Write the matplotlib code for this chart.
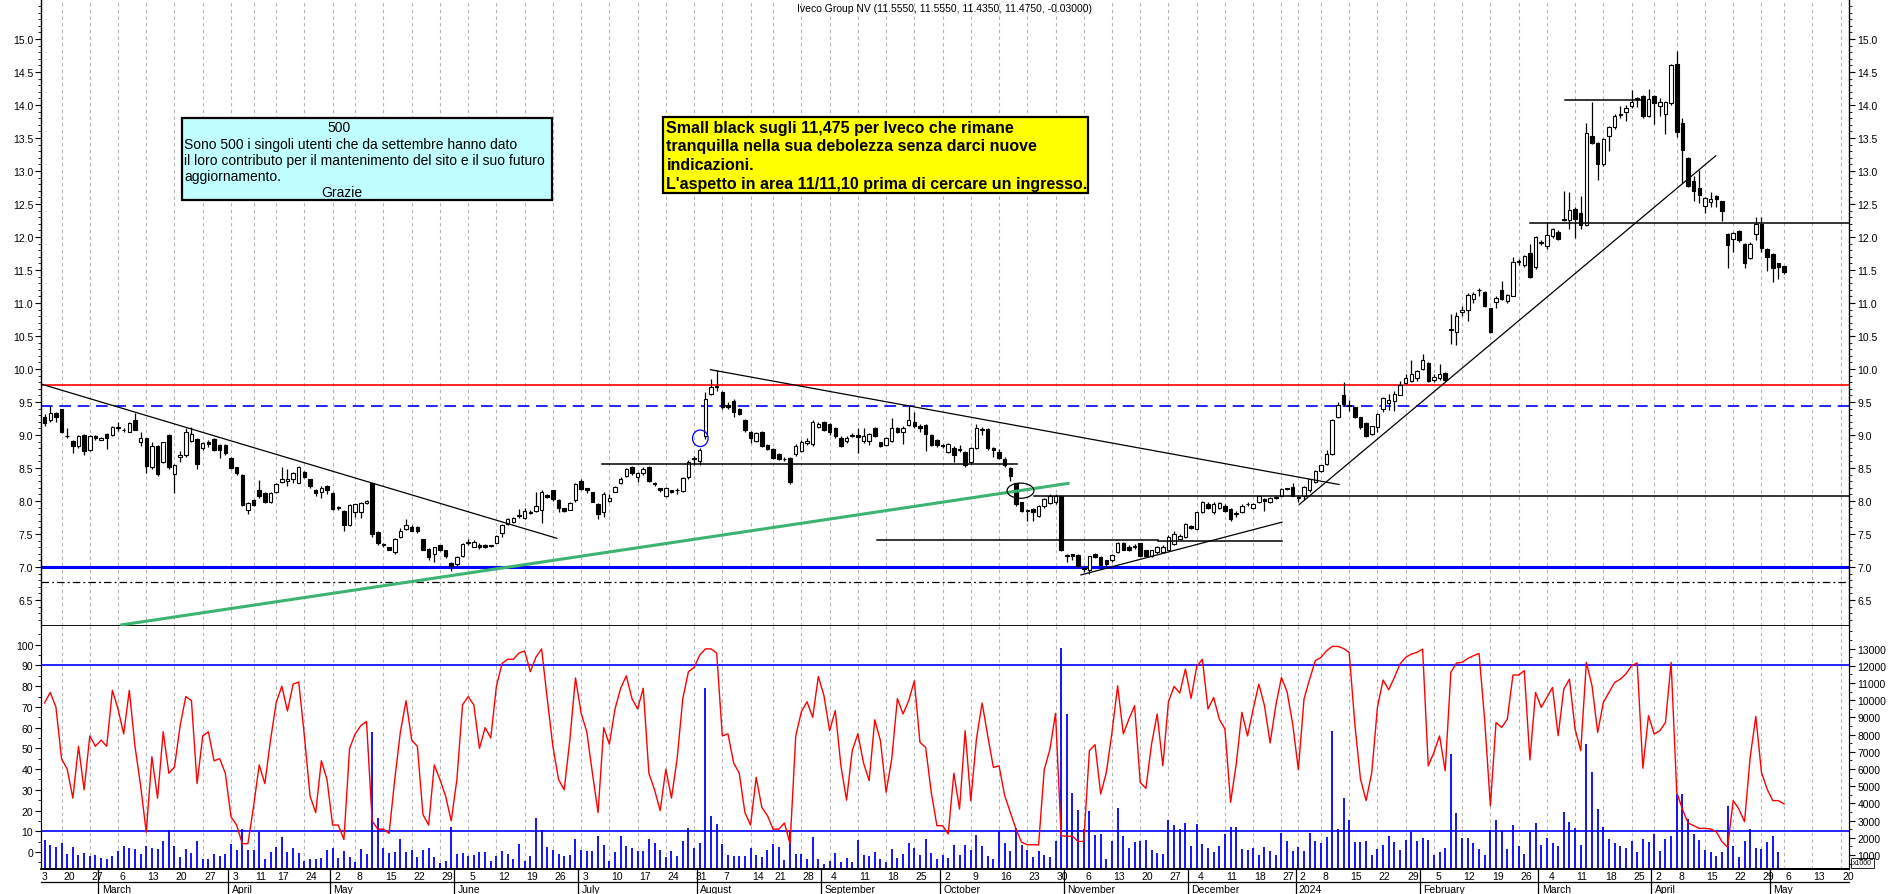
import matplotlib.pyplot as plt
from matplotlib.patches import Rectangle, Ellipse
from matplotlib.ticker import MultipleLocator, FixedLocator, FuncFormatter
import matplotlib.transforms as mtransforms
import numpy as np
import pandas as pd

plt.rcParams['font.family'] = ['Liberation Sans Narrow', 'Liberation Sans', 'DejaVu Sans']

# trading days (Borsa Italiana holidays removed), first bar 15 Feb 2023
holidays = ['2023-04-07', '2023-04-10', '2023-05-01', '2023-08-15', '2023-12-25',
            '2023-12-26', '2024-01-01', '2024-03-29', '2024-04-01', '2024-05-01']
month_names = ['January', 'February', 'March', 'April', 'May', 'June', 'July',
               'August', 'September', 'October', 'November', 'December']

title = 'Iveco Group NV (11.5550, 11.5550, 11.4350, 11.4750, -0.03000)'

opens = [
    9.27, 9.23, 9.33, 9.39, 8.99, 8.91, 8.83, 9.00, 8.78, 8.99,
    8.93, 9.02, 9.00, 9.11, 9.07, 9.05, 9.22, 8.89, 8.95, 8.51,
    8.84, 8.59, 9.00, 8.41, 8.66, 8.69, 8.91, 8.94, 8.80, 8.90,
    8.94, 8.85, 8.85, 8.65, 8.51, 8.40, 7.87, 8.02, 8.17, 8.12,
    7.99, 8.14, 8.29, 8.30, 8.34, 8.28, 8.44, 8.33, 8.17, 8.14,
    8.23, 8.12, 7.90, 7.85, 7.64, 7.84, 7.84, 7.97, 8.27, 7.53,
    7.35, 7.30, 7.22, 7.45, 7.58, 7.61, 7.61, 7.42, 7.28, 7.20,
    7.33, 7.25, 7.06, 7.05, 7.17, 7.37, 7.31, 7.34, 7.34, 7.32,
    7.37, 7.51, 7.65, 7.68, 7.78, 7.74, 7.82, 7.85, 7.87, 8.09,
    8.16, 8.02, 7.89, 7.87, 8.01, 8.31, 8.19, 8.13, 7.96, 7.83,
    8.00, 8.14, 8.27, 8.38, 8.51, 8.36, 8.42, 8.52, 8.28, 8.19,
    8.07, 8.16, 8.16, 8.15, 8.36, 8.64, 8.61, 8.99, 9.62, 9.73,
    9.65, 9.45, 9.52, 9.40, 9.23, 9.05, 8.91, 9.05, 8.85, 8.79,
    8.71, 8.64, 8.65, 8.71, 8.76, 8.88, 8.86, 9.12, 9.19, 9.17,
    9.10, 8.96, 8.91, 8.99, 9.00, 8.91, 8.91, 9.10, 8.89, 8.85,
    8.91, 9.10, 9.05, 9.15, 9.20, 9.14, 9.15, 9.00, 8.93, 8.85,
    8.74, 8.81, 8.79, 8.74, 8.59, 8.81, 9.08, 9.09, 8.80, 8.74,
    8.64, 8.50, 8.27, 7.98, 7.86, 7.88, 7.77, 7.93, 7.97, 7.98,
    8.07, 7.18, 7.19, 7.18, 6.98, 6.96, 7.20, 7.15, 7.10, 7.10,
    7.22, 7.37, 7.31, 7.31, 7.36, 7.25, 7.17, 7.22, 7.22, 7.26,
    7.35, 7.43, 7.46, 7.62, 7.58, 7.83, 7.95, 7.83, 7.90, 7.93,
    7.88, 7.80, 7.83, 7.95, 7.90, 7.99, 8.03, 7.99, 8.05, 8.08,
    8.18, 8.21, 8.06, 8.08, 8.16, 8.29, 8.46, 8.56, 8.71, 9.27,
    9.61, 9.45, 9.42, 9.27, 9.18, 9.02, 9.12, 9.39, 9.48, 9.52,
    9.61, 9.79, 9.82, 9.86, 10.00, 10.09, 9.84, 9.86, 9.94, 10.59,
    10.56, 10.87, 10.90, 11.06, 11.19, 11.16, 10.92, 11.02, 11.20, 11.03,
    11.11, 11.62, 11.57, 11.76, 11.54, 11.91, 11.87, 12.02, 12.08, 12.26,
    12.25, 12.43, 12.36, 12.18, 13.53, 13.42, 13.10, 13.53, 13.66, 13.85,
    13.90, 13.99, 14.09, 14.14, 13.84, 14.14, 13.98, 13.86, 14.03, 14.62,
    13.72, 13.20, 12.85, 12.74, 12.47, 12.53, 12.62, 12.54, 12.05, 11.97,
    12.09, 11.90, 11.68, 12.05, 12.20, 11.82, 11.74, 11.60, 11.555]

highs = [
    9.32, 9.44, 9.35, 9.40, 9.10, 8.92, 9.00, 9.02, 9.00, 9.00,
    8.97, 9.03, 9.13, 9.19, 9.10, 9.20, 9.34, 9.05, 8.96, 8.90,
    8.85, 8.90, 9.01, 8.56, 8.75, 9.10, 9.12, 8.96, 8.90, 8.92,
    8.95, 8.86, 8.86, 8.66, 8.52, 8.41, 7.98, 8.03, 8.32, 8.13,
    8.13, 8.27, 8.51, 8.49, 8.44, 8.53, 8.45, 8.34, 8.18, 8.22,
    8.24, 8.13, 7.93, 7.86, 7.95, 7.96, 7.98, 8.01, 8.28, 7.54,
    7.36, 7.31, 7.44, 7.59, 7.72, 7.63, 7.62, 7.43, 7.29, 7.31,
    7.34, 7.26, 7.07, 7.16, 7.37, 7.43, 7.41, 7.36, 7.35, 7.34,
    7.48, 7.65, 7.74, 7.76, 7.88, 7.90, 7.86, 8.14, 8.16, 8.10,
    8.17, 8.03, 7.90, 7.98, 8.28, 8.33, 8.20, 8.14, 7.97, 8.13,
    8.10, 8.22, 8.36, 8.50, 8.53, 8.44, 8.51, 8.53, 8.29, 8.20,
    8.21, 8.17, 8.20, 8.36, 8.62, 8.68, 8.80, 9.65, 9.85, 9.99,
    9.66, 9.50, 9.55, 9.41, 9.24, 9.06, 9.04, 9.06, 8.86, 8.80,
    8.72, 8.66, 8.66, 8.86, 8.92, 8.95, 9.22, 9.20, 9.21, 9.18,
    9.12, 8.98, 8.98, 9.03, 9.10, 9.10, 9.03, 9.12, 8.90, 8.97,
    9.26, 9.12, 9.13, 9.44, 9.35, 9.16, 9.16, 9.01, 8.94, 8.87,
    8.88, 8.83, 8.85, 8.75, 8.82, 9.17, 9.12, 9.10, 8.82, 8.79,
    8.66, 8.51, 8.28, 7.99, 7.88, 7.90, 7.94, 8.05, 8.10, 8.10,
    8.08, 7.20, 7.20, 7.19, 7.00, 7.17, 7.21, 7.16, 7.11, 7.19,
    7.38, 7.38, 7.33, 7.35, 7.37, 7.26, 7.26, 7.32, 7.33, 7.48,
    7.55, 7.50, 7.66, 7.63, 7.84, 8.00, 7.99, 7.98, 7.98, 7.95,
    7.89, 7.85, 7.95, 7.98, 7.97, 8.08, 8.04, 8.06, 8.08, 8.20,
    8.20, 8.27, 8.08, 8.22, 8.34, 8.47, 8.55, 8.78, 9.24, 9.50,
    9.80, 9.53, 9.43, 9.28, 9.19, 9.14, 9.33, 9.58, 9.62, 9.66,
    9.82, 9.92, 10.14, 9.99, 10.22, 10.11, 9.92, 10.08, 9.96, 10.83,
    10.86, 10.95, 11.15, 11.16, 11.23, 11.18, 10.93, 11.10, 11.34, 11.14,
    11.70, 11.66, 11.73, 11.90, 12.02, 11.95, 12.22, 12.14, 12.10, 12.69,
    12.68, 12.45, 12.62, 13.72, 14.04, 13.44, 13.50, 13.68, 13.86, 13.98,
    14.00, 14.22, 14.12, 14.15, 14.24, 14.15, 14.10, 14.06, 14.62, 14.82,
    13.80, 13.21, 12.93, 13.02, 12.60, 12.68, 12.63, 12.55, 12.06, 12.07,
    12.10, 11.91, 11.92, 12.30, 12.30, 11.83, 11.75, 11.61, 11.555]

lows = [
    9.14, 9.20, 9.19, 9.03, 8.95, 8.73, 8.80, 8.70, 8.76, 8.93,
    8.92, 8.79, 8.99, 9.06, 9.05, 9.04, 9.07, 8.83, 8.42, 8.48,
    8.38, 8.57, 8.49, 8.12, 8.59, 8.67, 8.90, 8.49, 8.78, 8.82,
    8.75, 8.65, 8.70, 8.48, 8.40, 7.92, 7.80, 7.92, 8.05, 7.97,
    7.97, 8.12, 8.27, 8.22, 8.28, 8.27, 8.35, 8.20, 8.07, 8.04,
    8.10, 7.86, 7.86, 7.55, 7.62, 7.75, 7.74, 7.95, 7.45, 7.34,
    7.30, 7.25, 7.20, 7.44, 7.56, 7.54, 7.52, 7.25, 7.10, 7.07,
    7.24, 7.14, 6.94, 7.00, 7.15, 7.33, 7.30, 7.28, 7.29, 7.30,
    7.36, 7.45, 7.64, 7.66, 7.74, 7.72, 7.80, 7.84, 7.67, 8.05,
    8.00, 7.83, 7.83, 7.86, 7.99, 8.17, 8.12, 7.98, 7.73, 7.76,
    7.98, 8.13, 8.26, 8.36, 8.40, 8.29, 8.40, 8.29, 8.22, 8.13,
    8.06, 8.12, 8.10, 8.13, 8.34, 8.55, 8.55, 8.94, 9.60, 9.66,
    9.40, 9.39, 9.27, 9.30, 9.05, 8.88, 8.90, 8.82, 8.77, 8.63,
    8.62, 8.60, 8.26, 8.68, 8.74, 8.85, 8.84, 9.10, 9.06, 9.00,
    8.95, 8.82, 8.88, 8.97, 8.72, 8.88, 8.85, 8.97, 8.82, 8.84,
    8.89, 9.03, 8.87, 9.13, 9.10, 9.05, 8.75, 8.83, 8.82, 8.80,
    8.72, 8.59, 8.74, 8.51, 8.57, 8.79, 9.00, 8.78, 8.67, 8.63,
    8.52, 8.31, 7.93, 7.83, 7.70, 7.70, 7.75, 7.90, 7.95, 7.96,
    7.24, 7.08, 7.10, 7.00, 6.92, 6.90, 7.13, 7.00, 7.02, 7.08,
    7.21, 7.25, 7.24, 7.28, 7.16, 7.15, 7.15, 7.20, 7.21, 7.25,
    7.33, 7.42, 7.44, 7.58, 7.57, 7.82, 7.88, 7.81, 7.88, 7.83,
    7.70, 7.76, 7.82, 7.93, 7.88, 7.97, 7.85, 7.97, 8.03, 8.07,
    8.16, 8.07, 7.98, 8.02, 8.14, 8.27, 8.44, 8.55, 8.70, 9.25,
    9.44, 9.37, 9.25, 9.09, 8.97, 9.00, 9.05, 9.35, 9.38, 9.36,
    9.60, 9.77, 9.80, 9.82, 9.98, 9.80, 9.80, 9.83, 9.80, 10.38,
    10.36, 10.80, 10.73, 11.00, 11.10, 10.94, 10.54, 10.92, 11.05, 11.00,
    11.10, 11.58, 11.54, 11.38, 11.52, 11.88, 11.82, 11.99, 11.95, 12.24,
    12.12, 11.99, 12.12, 12.17, 13.41, 12.87, 13.08, 13.30, 13.64, 13.80,
    13.75, 13.95, 13.97, 13.80, 13.82, 13.71, 13.84, 13.56, 14.00, 13.52,
    12.82, 12.75, 12.55, 12.52, 12.37, 12.45, 12.45, 12.24, 11.53, 11.77,
    11.92, 11.53, 11.66, 11.96, 11.78, 11.48, 11.32, 11.37, 11.435]

closes = [
    9.18, 9.34, 9.28, 9.05, 8.98, 8.83, 8.99, 8.76, 8.98, 8.95,
    8.96, 8.96, 9.12, 9.12, 9.07, 9.18, 9.08, 8.96, 8.53, 8.83,
    8.41, 8.89, 8.51, 8.55, 8.70, 9.04, 9.02, 8.56, 8.88, 8.87,
    8.78, 8.78, 8.73, 8.50, 8.42, 7.94, 7.97, 7.94, 8.07, 7.98,
    8.12, 8.26, 8.34, 8.33, 8.43, 8.51, 8.37, 8.22, 8.12, 8.20,
    8.16, 7.88, 7.90, 7.63, 7.94, 7.95, 7.97, 8.00, 7.50, 7.36,
    7.34, 7.26, 7.43, 7.55, 7.64, 7.55, 7.54, 7.26, 7.15, 7.30,
    7.26, 7.16, 7.02, 7.15, 7.35, 7.38, 7.38, 7.30, 7.31, 7.32,
    7.47, 7.64, 7.73, 7.74, 7.79, 7.85, 7.83, 7.93, 8.14, 8.06,
    8.03, 7.90, 7.85, 7.97, 8.26, 8.18, 8.16, 7.99, 7.81, 8.11,
    8.04, 8.21, 8.34, 8.48, 8.42, 8.42, 8.49, 8.31, 8.26, 8.16,
    8.20, 8.13, 8.17, 8.35, 8.59, 8.65, 8.78, 9.55, 9.72, 9.74,
    9.43, 9.43, 9.35, 9.32, 9.07, 8.95, 9.03, 8.84, 8.79, 8.65,
    8.64, 8.63, 8.29, 8.84, 8.90, 8.91, 9.19, 9.17, 9.08, 9.04,
    8.99, 8.84, 8.95, 9.00, 8.97, 8.99, 9.01, 8.99, 8.84, 8.96,
    9.11, 9.05, 9.10, 9.22, 9.13, 9.10, 9.02, 8.85, 8.85, 8.84,
    8.86, 8.69, 8.78, 8.54, 8.81, 9.10, 9.09, 8.80, 8.78, 8.65,
    8.54, 8.38, 7.95, 7.85, 7.85, 7.83, 7.92, 8.03, 8.08, 8.07,
    7.26, 7.17, 7.17, 7.02, 6.97, 7.16, 7.15, 7.03, 7.05, 7.18,
    7.37, 7.26, 7.26, 7.31, 7.17, 7.17, 7.25, 7.30, 7.30, 7.46,
    7.50, 7.47, 7.65, 7.59, 7.83, 7.99, 7.90, 7.95, 7.97, 7.85,
    7.72, 7.80, 7.93, 7.96, 7.95, 8.07, 8.00, 8.04, 8.06, 8.18,
    8.18, 8.08, 8.05, 8.21, 8.33, 8.46, 8.54, 8.71, 9.22, 9.45,
    9.47, 9.44, 9.27, 9.12, 8.99, 9.13, 9.32, 9.56, 9.53, 9.62,
    9.76, 9.86, 9.92, 9.97, 10.14, 9.82, 9.88, 9.92, 9.84, 10.61,
    10.81, 10.89, 11.12, 11.14, 11.20, 10.96, 10.56, 11.08, 11.06, 11.12,
    11.62, 11.64, 11.71, 11.40, 12.00, 11.92, 12.03, 12.12, 11.97, 12.27,
    12.41, 12.27, 12.18, 13.57, 13.43, 13.10, 13.48, 13.66, 13.84, 13.86,
    13.95, 14.05, 14.10, 13.83, 14.09, 14.03, 14.04, 14.05, 14.60, 13.59,
    13.32, 12.77, 12.69, 12.63, 12.59, 12.58, 12.57, 12.39, 11.88, 12.06,
    11.96, 11.61, 11.90, 12.20, 11.83, 11.69, 11.53, 11.54, 11.475]

stoch = [
    72, 77, 70, 45, 40, 26, 51, 30, 56, 51,
    54, 51, 78, 69, 57, 78, 51, 32, 9.5, 46,
    26, 58, 38, 41, 61, 75, 73, 33, 56, 58,
    44, 45, 38, 17, 13, 4, 4, 22, 42, 33,
    54, 72, 80, 68, 81, 82, 56, 27, 19, 44,
    35, 13, 13, 6, 50, 57, 61, 63, 15, 11,
    11, 9, 35, 58, 73, 54, 51, 18, 13, 42,
    35, 27, 15, 35, 71, 75, 71, 50, 60, 55,
    80, 91, 93, 93, 96, 97, 87, 94, 98, 74,
    51, 35, 30, 54, 84, 67, 58, 38, 19, 60,
    52, 69, 79, 85, 74, 69, 79, 38, 30, 20,
    40, 26, 45, 74, 87, 89, 95, 98, 98, 96,
    56, 57, 43, 38, 19, 13, 36, 21.5, 17.5, 11,
    11, 14, 3.9, 56, 67.7, 72.5, 65, 84.7, 75.4, 58.5,
    68.2, 41.6, 25, 48.9, 57, 43, 34.4, 63.8, 53.7, 28.8,
    44.9, 74, 66.6, 73, 82.6, 52.9, 50.5, 28.8, 12.7, 12.7,
    8.7, 38, 20.7, 58.5, 24.8, 54.5, 71.9, 56, 40.8, 41.6,
    27.2, 19.1, 11, 4.7, 3.5, 3.5, 3.4, 39.7, 49.4, 66.9,
    7.9, 7.6, 7.6, 5.1, 5.1, 48.9, 51.8, 28, 38.4, 57.7,
    80.2, 57, 64.1, 70.6, 33.6, 30.7, 52, 66.6, 41.6, 72.5,
    79.9, 76.7, 88.3, 74.1, 89.5, 93, 69, 74.6, 64.1, 59.3,
    24, 42.4, 67.4, 56, 69, 81, 70.6, 52.6, 70.6, 84.2,
    77.3, 61.7, 39.7, 73.8, 83.4, 92.3, 93.9, 97.1, 99.2, 99.2,
    98.2, 96.3, 61.7, 35.2, 24.8, 38.4, 69.8, 83, 78.3, 84.2,
    90.7, 93.9, 95.5, 96.3, 97.9, 41.6, 48, 56, 39.2, 86.7,
    91.2, 91.5, 93.4, 94.7, 95.8, 63.3, 22.3, 62.5, 60.1, 64.1,
    85.4, 85.4, 87.5, 44.4, 77, 69.8, 74.6, 79.4, 56.1, 78.6,
    83.4, 59.3, 48.9, 91.5, 80.2, 57.7, 72.2, 77, 81.8, 83.4,
    85.9, 89.9, 91.2, 40.4, 65.8, 56.9, 58.5, 62.5, 91.5, 28.8,
    20.7, 14, 12.7, 11.4, 11.4, 11.1, 9.8, 5, 2.3, 24.8,
    20.7, 14.6, 45.7, 65.4, 38.4, 30.4, 24.8, 24.8, 23.2]

# volume, in thousands of the right-axis units
volume_k = [
    1.89, 1.58, 1.45, 1.70, 1.06, 1.45, 1.00, 1.12, 0.92, 1.00,
    0.84, 0.77, 0.92, 1.25, 1.50, 1.39, 1.35, 1.06, 1.50, 1.39,
    1.35, 1.83, 2.47, 1.50, 0.90, 1.35, 1.12, 1.79, 0.77, 0.77,
    1.06, 0.96, 1.06, 1.64, 1.31, 2.51, 1.31, 1.31, 2.36, 0.77,
    1.16, 1.45, 2.05, 1.16, 1.39, 1.12, 0.67, 0.77, 0.77, 0.83,
    1.31, 1.39, 0.81, 1.25, 0.86, 0.61, 1.35, 1.06, 8.17, 3.15,
    1.39, 1.12, 1.16, 1.93, 1.16, 1.31, 0.86, 1.31, 1.39, 0.86,
    0.53, 0.63, 2.61, 1.06, 1.12, 0.96, 1.00, 1.16, 1.16, 0.67,
    0.96, 1.21, 1.06, 0.77, 1.64, 0.67, 0.96, 3.15, 2.47, 1.45,
    1.31, 1.06, 0.92, 1.00, 1.93, 1.31, 1.21, 1.25, 2.09, 1.58,
    0.67, 1.16, 2.09, 1.50, 1.41, 1.23, 1.25, 1.93, 1.68, 1.29,
    0.86, 1.23, 0.96, 1.79, 2.55, 1.43, 1.68, 10.69, 3.29, 2.80,
    1.66, 1.00, 0.92, 0.92, 0.96, 1.39, 1.00, 0.90, 1.31, 1.66,
    1.48, 0.73, 2.47, 1.06, 1.06, 0.77, 2.05, 0.77, 0.48, 0.65,
    1.12, 0.61, 0.84, 0.57, 1.89, 1.00, 0.96, 1.16, 0.77, 0.57,
    1.35, 0.84, 1.06, 1.70, 1.43, 1.00, 1.93, 1.12, 0.77, 1.00,
    0.81, 1.58, 1.00, 1.58, 1.31, 2.16, 1.54, 0.96, 0.77, 2.38,
    1.72, 1.25, 2.57, 1.58, 1.31, 0.86, 1.23, 1.00, 0.86, 1.83,
    13.03, 9.20, 4.60, 3.63, 2.51, 3.56, 2.16, 2.22, 0.77, 1.83,
    3.73, 2.12, 1.39, 1.76, 1.83, 1.89, 1.31, 1.12, 1.06, 3.05,
    2.74, 2.51, 2.86, 1.54, 2.80, 1.64, 1.43, 1.20, 1.54, 2.22,
    2.65, 2.61, 1.35, 1.27, 1.41, 1.00, 1.47, 1.25, 1.00, 2.28,
    1.81, 1.23, 1.45, 1.21, 2.26, 1.79, 1.68, 2.03, 8.19, 2.51,
    4.29, 3.05, 1.78, 1.78, 1.79, 1.00, 1.35, 1.58, 2.09, 1.74,
    1.31, 1.89, 2.36, 1.79, 2.01, 1.89, 1.00, 1.16, 1.41, 6.87,
    3.44, 1.99, 1.99, 1.68, 1.35, 1.00, 2.45, 3.03, 2.38, 1.35,
    2.74, 1.50, 1.06, 2.36, 2.86, 1.58, 1.99, 1.68, 1.54, 3.48,
    2.92, 2.57, 1.58, 7.45, 5.82, 3.67, 2.63, 1.93, 1.70, 1.52,
    1.39, 1.81, 1.19, 1.93, 1.76, 2.20, 1.25, 1.93, 2.11, 4.55,
    4.52, 3.09, 2.22, 1.89, 1.29, 1.16, 0.92, 1.16, 3.83, 1.52,
    0.91, 1.81, 2.51, 1.43, 1.37, 1.76, 2.11, 1.17, 0.00]

# hand-drawn analysis lines: (bar index, price) pairs
trend_lines = [((-0.55, 9.77), (90.7, 7.435)),
               ((117.9, 9.99), (229.2, 8.25)),
               ((183.5, 6.88), (219.1, 7.68)),
               ((222.2, 7.95), (295.9, 13.23))]
support_line = ((13.4, 6.12), (181.5, 8.27))
level_segments = [(98.7, 172.2, 8.555), (175.2, 320.0, 8.08), (147.4, 197.2, 7.41),
                  (197.2, 219.1, 7.39), (269.2, 283.0, 14.08), (263.1, 320.0, 12.21)]
level_red = 9.76
level_blue_dash = 9.435
level_blue = 7.0
level_dashdot = 6.78

box_cyan_lines = ['Sono 500 i singoli utenti che da settembre hanno dato',
                  'il loro contributo per il mantenimento del sito e il suo futuro',
                  'aggiornamento.']
box_yellow_lines = ['Small black sugli 11,475 per Iveco che rimane',
                    'tranquilla nella sua debolezza senza darci nuove',
                    'indicazioni.',
                    "L'aspetto in area 11/11,10 prima di cercare un ingresso."]

# ---------------------------------------------------------------------------
W, H = 1890, 895


def fx(px):
    return px / W


def fy(py):
    return 1 - py / H


days = pd.bdate_range('2023-02-15', '2024-05-24')
days = days[~days.isin(pd.to_datetime(holidays))]
n = len(closes)
x = np.arange(n)
o = np.array(opens)
c = np.array(closes)
hi = np.array(highs)
lo = np.array(lows)

week_pos = [k for k in range(1, len(days)) if days[k].isocalendar()[1] != days[k - 1].isocalendar()[1]]
month_pos = [k for k in range(1, len(days)) if days[k].month != days[k - 1].month]

xmin, xmax = -0.55, 319.5

fig = plt.figure(figsize=(W / 100, H / 100), dpi=100)
ax = fig.add_axes([fx(41.5), fy(627.3), fx(1849) - fx(41.5), 627.3 / H])
axv = fig.add_axes([fx(41.5), fy(870), fx(1849) - fx(41.5), (870 - 627.3) / H])
axs = axv.twinx()

grid_kw = dict(color='#b4b4b4', lw=0.8, dashes=(3, 3), zorder=0)
for a in (ax, axv):
    for k in week_pos:
        if k <= xmax:
            a.axvline(k, **grid_kw)

# --- price panel ---
ax.vlines(x, lo, hi, color='black', lw=0.9, zorder=3)
up = c >= o
body = np.maximum(np.abs(c - o), 0.012)
ax.bar(x, body, bottom=np.minimum(o, c), width=0.62,
       color=np.where(up, 'white', 'black'), edgecolor='black', linewidth=0.8, zorder=4)

ax.axhline(level_red, color='#ff0000', lw=1.2, zorder=2)
ax.axhline(level_blue_dash, color='#0000ff', lw=1.2, dashes=(7, 4), zorder=2)
ax.axhline(level_blue, color='#0000ff', lw=2.2, zorder=2)
ax.axhline(level_dashdot, color='black', lw=0.9, dashes=(6, 2.5, 1.5, 2.5), zorder=2)
for (x0, y0), (x1, y1) in trend_lines:
    ax.plot([x0, x1], [y0, y1], color='black', lw=0.9, zorder=5)
(gx0, gy0), (gx1, gy1) = support_line
ax.plot([gx0, gx1], [gy0, gy1], color='#3cb371', lw=2.2, zorder=5, solid_capstyle='butt')
for xa, xb, lev in level_segments:
    ax.plot([xa, xb], [lev, lev], color='black', lw=1.1, zorder=5)
ax.add_patch(Ellipse((172.8, 8.156), 4.75, 0.23, fill=False, edgecolor='black', lw=0.9, zorder=6))
ax.add_patch(Ellipse((116.1, 8.95), 2.76, 0.25, fill=False, edgecolor='#0000ff', lw=0.9, zorder=6))

ax.set_xlim(xmin, xmax)
ax.set_ylim(6.1015, 15.606)
ax.yaxis.set_major_locator(FixedLocator(np.arange(6.5, 15.01, 0.5)))
ax.yaxis.set_minor_locator(MultipleLocator(0.1))
ax.yaxis.set_major_formatter(FuncFormatter(lambda v, p: f'{v:.1f}'))
ax.tick_params(axis='y', which='both', direction='out', left=True, right=True,
               labelleft=True, labelright=True, labelsize=7.5, pad=2)
ax.tick_params(axis='y', which='major', length=4, width=0.8)
ax.tick_params(axis='y', which='minor', length=2.2, width=0.6)
ax.set_xticks([])
ax.spines['top'].set_visible(False)
for s in ('left', 'right'):
    ax.spines[s].set_linewidth(1.0)
ax.spines['bottom'].set_linewidth(1.3)

# --- indicator panel ---
axv.vlines(x, 0, volume_k, color='#0000ff', lw=1.3, zorder=2)
axv.set_ylim(0.186, 14.3)
axv.yaxis.tick_right()
axv.yaxis.set_major_locator(FixedLocator(np.arange(1, 13.5, 1)))
axv.yaxis.set_minor_locator(MultipleLocator(0.5))
axv.yaxis.set_major_formatter(FuncFormatter(lambda v, p: f'{int(round(v * 1000))}'))
axv.tick_params(axis='y', which='both', direction='out', labelsize=7.5, pad=2)
axv.tick_params(axis='y', which='major', length=4, width=0.8)
axv.tick_params(axis='y', which='minor', length=2.2, width=0.6)

axs.plot(x, stoch, color='#ff0000', lw=1.0, zorder=4)
axs.axhline(90, color='#0000ff', lw=1.2, zorder=3)
axs.axhline(10, color='#0000ff', lw=1.2, zorder=3)
axs.set_ylim(-8.2, 108.9)
axs.yaxis.tick_left()
axs.yaxis.set_major_locator(FixedLocator(np.arange(0, 101, 10)))
axs.yaxis.set_minor_locator(MultipleLocator(5))
axs.tick_params(axis='y', which='both', direction='out', labelsize=7.5, pad=2)
axs.tick_params(axis='y', which='major', length=4, width=0.8)
axs.tick_params(axis='y', which='minor', length=2.2, width=0.6)
for a in (axv, axs):
    a.set_xlim(xmin, xmax)
    a.set_xticks([])
    a.spines['top'].set_visible(False)
    a.spines['bottom'].set_linewidth(1.3)

# --- date rows ---
trans = mtransforms.blended_transform_factory(ax.transData, fig.transFigure)
fig.text(fx(42), fy(877), '3', fontsize=7.5, ha='left', va='center')
for k in week_pos:
    if k < xmax - 1:
        ax.text(k + 0.25, fy(877), str(days[k].day), transform=trans, fontsize=7.5,
                ha='left', va='center', clip_on=False)
for k in month_pos:
    if k < xmax:
        d = days[k]
        label = str(d.year) if d.month == 1 else month_names[d.month - 1]
        ax.plot([k - 0.5, k - 0.5], [fy(871), fy(895)], transform=trans, color='black',
                lw=0.9, clip_on=False)
        ax.text(k + 0.1, fy(890.5), label, transform=trans, fontsize=7.5,
                ha='left', va='center', clip_on=False)
fig.add_artist(plt.Line2D([fx(41.5), fx(1849)], [fy(883), fy(883)], color='black', lw=0.9))

# x1000 marker
fig.add_artist(Rectangle((fx(1851), fy(869)), fx(23), 10 / H, fill=False,
                         edgecolor='black', lw=0.6, transform=fig.transFigure))
fig.text(fx(1862.5), fy(864), 'x1000', fontsize=5, ha='center', va='center')

# title
fig.text(0.5, fy(8.5), title, fontsize=7.5, ha='center', va='center')

# cyan note
fig.add_artist(Rectangle((fx(181.7), fy(201)), fx(552.2 - 181.7), (201 - 119.3) / H,
                         facecolor='#c0ffff', edgecolor='black', lw=1.6,
                         transform=fig.transFigure, zorder=10))
fig.text(fx(339), fy(128.5), '500', fontsize=10, ha='center', va='center', zorder=11)
for j, line in enumerate(box_cyan_lines):
    fig.text(fx(184.5), fy(144.5 + 16.4 * j), line, fontsize=10, ha='left', va='center', zorder=11)
fig.text(fx(342), fy(193.3), 'Grazie', fontsize=10, ha='center', va='center', zorder=11)

# yellow note
fig.add_artist(Rectangle((fx(663.4), fy(194)), fx(1088.4 - 663.4), (194 - 118.3) / H,
                         facecolor='#ffff00', edgecolor='black', lw=1.6,
                         transform=fig.transFigure, zorder=10))
for j, line in enumerate(box_yellow_lines):
    fig.text(fx(666.5), fy(128.5 + 18.5 * j), line, fontsize=11.5, fontweight='bold',
             ha='left', va='center', zorder=11)

fig.savefig('out.png', dpi=100)
